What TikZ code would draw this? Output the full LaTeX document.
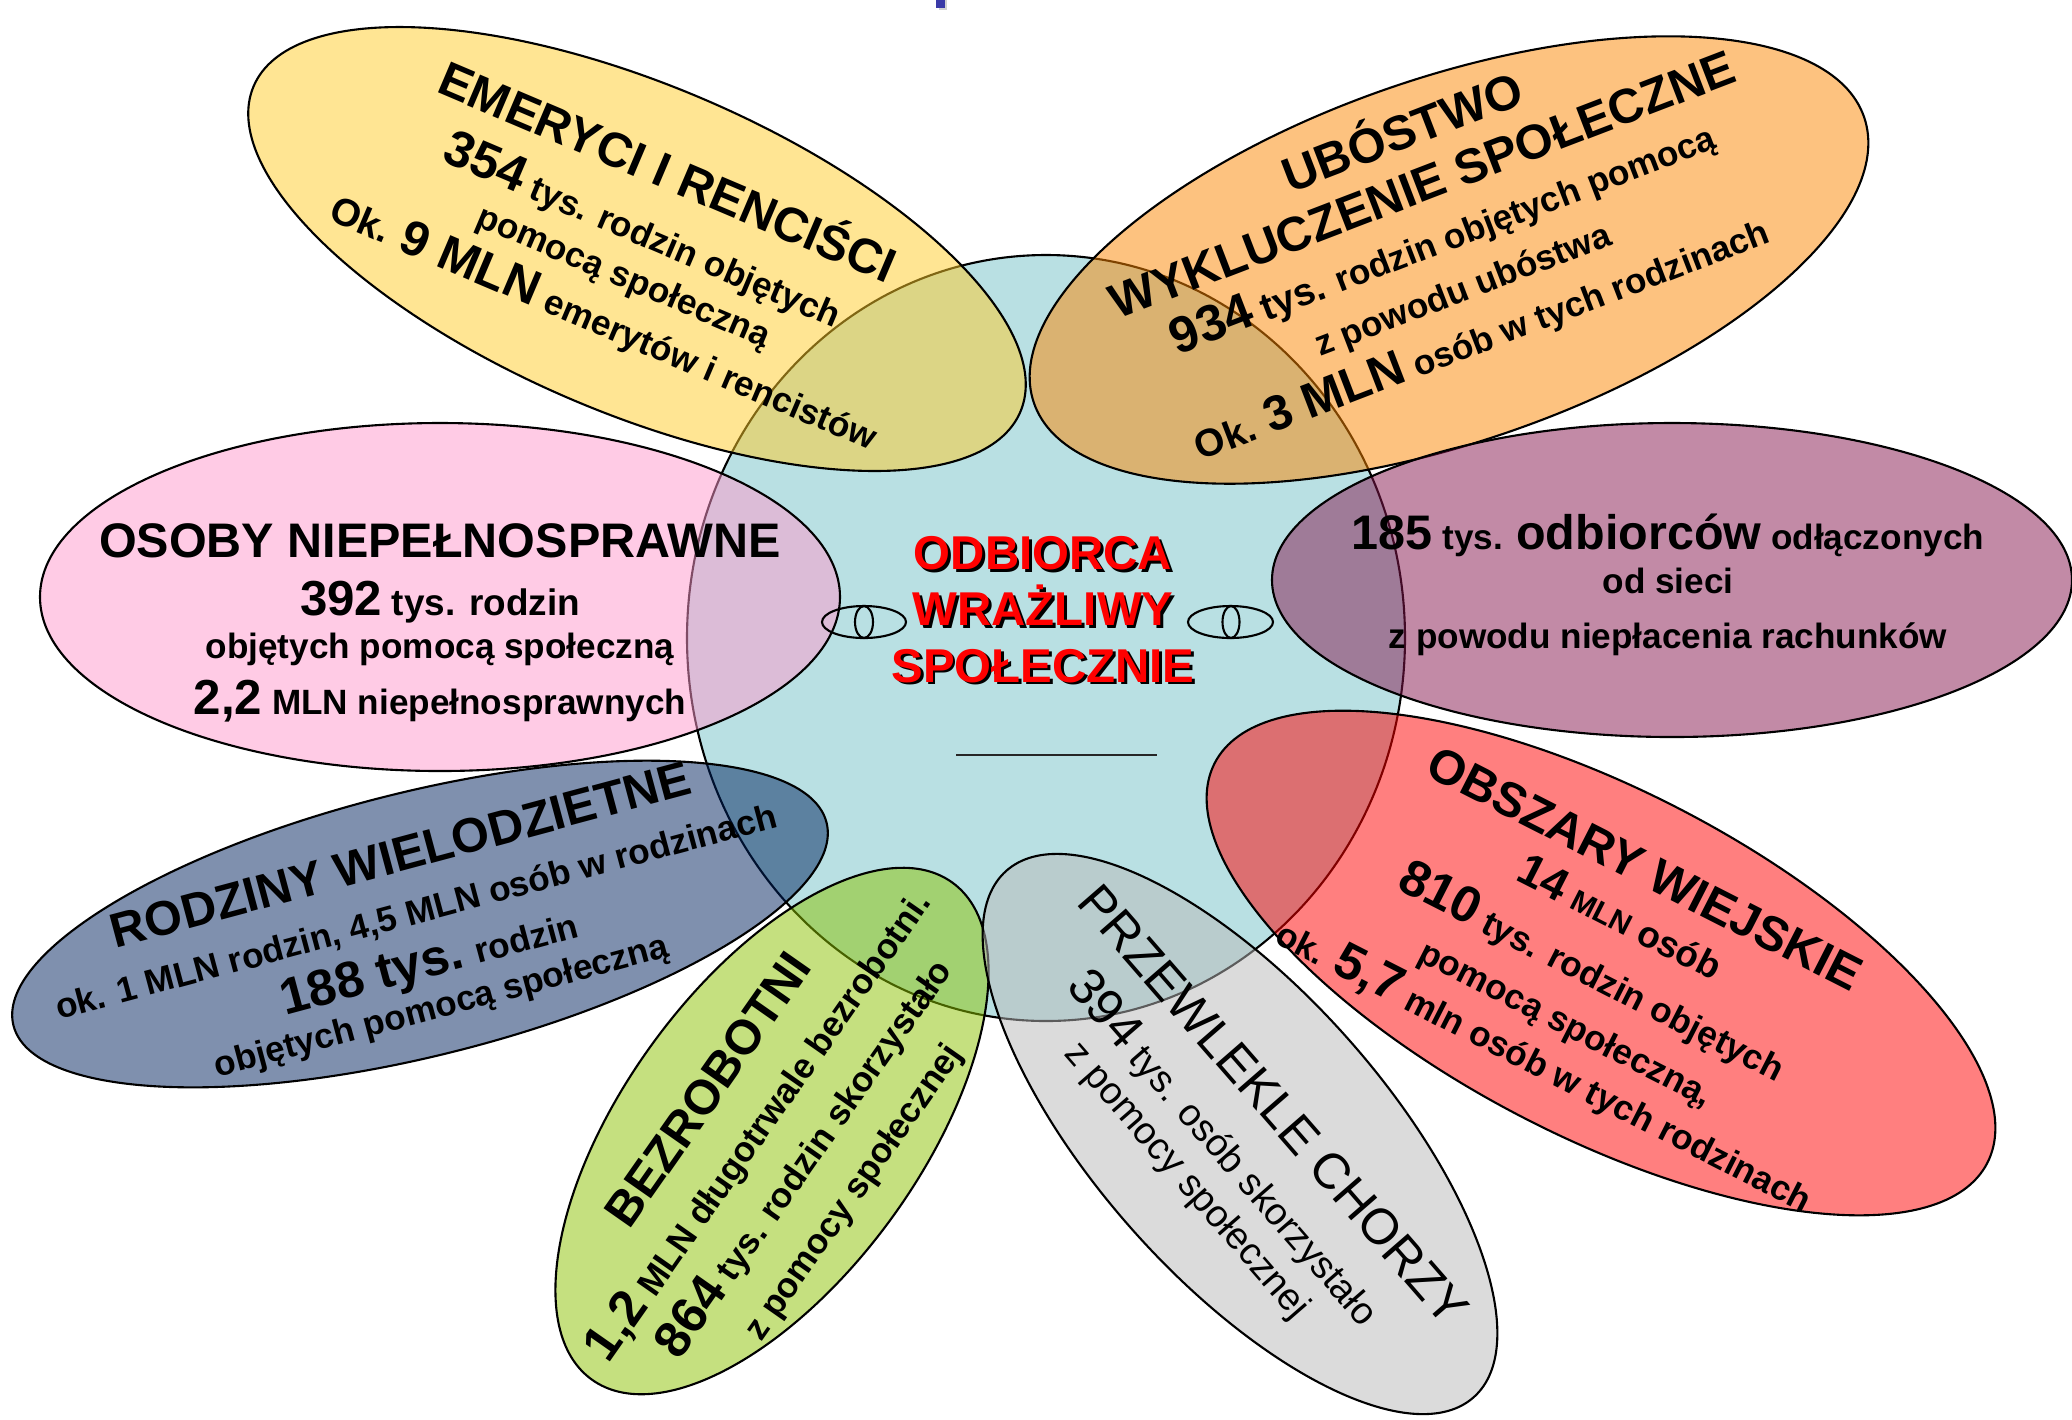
\documentclass[tikz,border=0pt]{standalone}
\usepackage{fontspec}
\setmainfont{Liberation Sans}
\usetikzlibrary{shapes.geometric}

\definecolor{centfill}{RGB}{185,224,227}
\definecolor{emerfill}{RGB}{255,204,40}
\definecolor{ubosfill}{RGB}{252,134,0}
\definecolor{osobfill}{RGB}{255,153,205}
\definecolor{odlfill}{RGB}{135,23,79}
\definecolor{rodzfill}{RGB}{0,35,95}
\definecolor{bezrfill}{RGB}{141,195,0}
\definecolor{chorfill}{RGB}{185,185,185}
\definecolor{obszfill}{RGB}{255,0,0}
\definecolor{markblue}{RGB}{58,58,168}

% red text with a dark shadow below right
\newcommand\shd[2][black]{\leavevmode\rlap{\kern0.8pt\raisebox{-0.8pt}{\color{#1}#2}}{#2}}
\newcommand\ttl{\fontsize{13.8}{12}\selectfont}
\newcommand\bignum{\fontsize{14.5}{12}\selectfont}
\newcommand\midsz{\fontsize{11}{12}\selectfont}
\newcommand\tightls{\lineskiplimit-50pt\relax}

\tikzset{
  petal/.style={ellipse, draw=black, line width=0.6pt, fill opacity=0.5, draw opacity=1, inner sep=0pt},
  txt/.style={align=center, inner sep=0pt, text=black, font=\bfseries\fontsize{10}{12}\selectfont\tightls},
}

\begin{document}
\begin{tikzpicture}
  \useasboundingbox (0,0) rectangle (20.72,-14.19);
  \fill[white] (0,0) rectangle (20.72,-14.19);
  % mark at the top
  \fill[gray!35] (9.39,0) rectangle (9.47,-0.10);
  \fill[markblue] (9.36,0) rectangle (9.445,-0.075);

  % centre
  \node[ellipse, draw=black, line width=0.6pt, fill=centfill, inner sep=0pt,
        minimum width=7.18cm, minimum height=7.66cm] (cent) at (10.46,-6.38) {};

  % petals
  \node[petal, fill=emerfill, rotate=-23, minimum width=8.33cm, minimum height=3.28cm] (emer) at (6.37,-2.49) {};
  \node[petal, fill=ubosfill, rotate=19, minimum width=8.78cm, minimum height=3.64cm] (ubos) at (14.49,-2.60) {};
  \node[petal, fill=osobfill, minimum width=8.00cm, minimum height=3.48cm] (osob) at (4.40,-5.97) {};
  \node[petal, fill=odlfill, minimum width=8.00cm, minimum height=3.14cm] (odl) at (16.72,-5.80) {};
  \node[petal, fill=rodzfill, rotate=14, minimum width=8.38cm, minimum height=2.64cm] (rodz) at (4.20,-9.24) {};
  \node[petal, fill=bezrfill, rotate=54, minimum width=6.14cm, minimum height=2.96cm] (bezr) at (7.72,-11.31) {};
  \node[petal, fill=chorfill, rotate=-48.4, minimum width=7.04cm, minimum height=2.88cm] (chor) at (12.40,-11.34) {};
  \node[petal, fill=obszfill, rotate=-27.4, minimum width=8.70cm, minimum height=3.46cm] (obsz) at (16.01,-9.63) {};

  % eyes and line in the centre
  \draw[line width=0.6pt] (8.64,-6.22) ellipse [x radius=0.42, y radius=0.16];
  \draw[line width=0.6pt] (8.64,-6.22) ellipse [x radius=0.09, y radius=0.16];
  \draw[line width=0.6pt] (12.305,-6.22) ellipse [x radius=0.425, y radius=0.16];
  \draw[line width=0.6pt] (12.31,-6.22) ellipse [x radius=0.085, y radius=0.16];
  \draw[line width=0.6pt, black!85] (9.56,-7.55) -- (11.57,-7.55);

  % texts
  \node[txt, text=red, font=\bfseries\fontsize{13.5}{16}\selectfont] (cent-t) at (10.43,-6.11)
    {\shd{ODBIORCA}\\ \shd{WRAŻLIWY}\\ \shd{SPOŁECZNIE}};

  \node[txt, rotate=-23] (emer-t) at (6.37,-2.45)
    {{\ttl EMERYCI I RENCIŚCI}\\[5.5pt]
     {\bignum 354} tys. rodzin objętych\\[1pt]
     pomocą społeczną\\[3pt]
     {\midsz Ok.} {\fontsize{14}{12}\selectfont 9 MLN} emerytów i rencistów};

  \node[txt, rotate=21] (ubos-t) at (14.41,-2.33)
    {{\ttl UBÓSTWO}\\[4pt]
     {\ttl WYKLUCZENIE SPOŁECZNE}\\[3.5pt]
     {\bignum 934} {\midsz tys.} rodzin objętych pomocą\\[3pt]
     z powodu ubóstwa\\[3.5pt]
     {\midsz Ok.} {\fontsize{14}{12}\selectfont 3 MLN} osób w tych rodzinach};

  \node[txt] (osob-t) at (4.40,-6.23)
    {{\ttl OSOBY NIEPEŁNOSPRAWNE}\\[4.5pt]
     {\fontsize{14}{12}\selectfont 392} {\fontsize{10.5}{12}\selectfont tys. rodzin}\\
     objętych pomocą społeczną\\[4pt]
     {\fontsize{14}{12}\selectfont 2,2} MLN niepełnosprawnych};

  \node[txt] (odl-t) at (16.68,-5.85)
    {{\ttl 185} tys. {\ttl odbiorców} odłączonych\\[0.5pt]
     od sieci\\[3.5pt]
     z powodu niepłacenia rachunków};

  \node[txt, rotate=15] (rodz-t) at (4.21,-9.31)
    {{\ttl RODZINY WIELODZIETNE}\\[3.5pt]
     ok. 1 MLN rodzin, 4,5 MLN osób w rodzinach\\[3.5pt]
     {\bignum 188 tys.} rodzin\\
     objętych pomocą społeczną};

  \node[txt, rotate=55] (bezr-t) at (7.81,-11.41)
    {{\ttl BEZROBOTNI}\\[5pt]
     {\bignum 1,2} MLN długotrwale bezrobotni.\\[4pt]
     {\bignum 864} tys. rodzin skorzystało\\[4pt]
     z pomocy społecznej};

  \node[txt, rotate=-49, font=\mdseries\fontsize{10.8}{12}\selectfont\tightls] (chor-t) at (12.30,-11.43)
    {{\fontsize{14.3}{12}\selectfont PRZEWLEKLE CHORZY}\\[6pt]
     {\bignum 394} tys. osób skorzystało\\[1pt]
     z pomocy społecznej};

  \node[txt, rotate=-27] (obsz-t) at (15.94,-9.69)
    {{\ttl OBSZARY WIEJSKIE}\\[3pt]
     {\fontsize{13}{12}\selectfont 14} {\fontsize{8.5}{12}\selectfont MLN} {\fontsize{10.5}{12}\selectfont osób}\\[5.5pt]
     {\bignum 810} tys. rodzin objętych\\[3.5pt]
     pomocą społeczną,\\[2pt]
     ok. {\bignum 5,7} mln osób w tych rodzinach};
\end{tikzpicture}
\end{document}
